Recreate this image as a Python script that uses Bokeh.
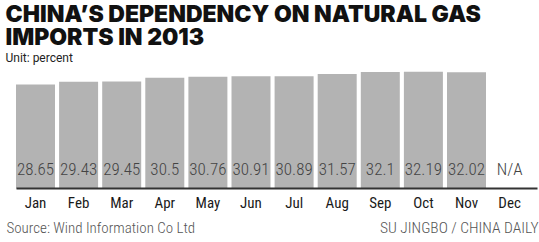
from bokeh.plotting import figure
from bokeh.models import Range1d, Label, ColumnDataSource
from bokeh.core.properties import value
from bokeh.embed import file_html
from bokeh.resources import INLINE

# ---- data ----
months = ["Jan", "Feb", "Mar", "Apr", "May", "Jun", "Jul", "Aug", "Sep", "Oct", "Nov", "Dec"]
dependency = [28.65, 29.43, 29.45, 30.5, 30.76, 30.91, 30.89, 31.57, 32.1, 32.19, 32.02]  # Dec: N/A
value_labels = ["28.65", "29.43", "29.45", "30.5", "30.76", "30.91", "30.89", "31.57",
                "32.1", "32.19", "32.02", "N/A"]
title_lines = ["CHINA\u2019S DEPENDENCY ON NATURAL GAS", "IMPORTS IN 2013"]
unit_text = "Unit: percent"
source_text = "Source: Wind Information Co Ltd"
credit_text = "SU JINGBO / CHINA DAILY"

# ---- layout ----
W, H = 539, 242
BASE = 188          # baseline, px from top
PXU = 3.63          # px per percent
PITCH = 43.1        # px per month
X0 = 35             # centre of first bar, px

x_range = Range1d(-X0 / PITCH, (W - X0) / PITCH)
y_range = Range1d(-(H - BASE) / PXU, BASE / PXU)

p = figure(width=W, height=H, x_range=x_range, y_range=y_range,
           output_backend="svg", toolbar_location=None, min_border=0,
           x_axis_location=None, y_axis_location=None, outline_line_color=None)
p.grid.visible = False
p.background_fill_color = "white"
p.border_fill_color = "white"

idx = list(range(len(months)))
bars = ColumnDataSource(dict(x=idx[:len(dependency)], top=dependency))
p.vbar(x="x", top="top", bottom=0, width=39 / PITCH, source=bars,
       fill_color="#b3b3b3", line_color=None)

# baseline
p.segment(x0=[(16 - X0) / PITCH], y0=[0], x1=[(537 - X0) / PITCH], y1=[0],
          line_color="#333333", line_width=2)

lab = ColumnDataSource(dict(x=idx, y=[20 / PXU] * len(idx), t=value_labels))
p.text(x="x", y="y", text="t", source=lab, text_align="center", text_baseline="alphabetic",
       text_font=value("Roboto Condensed Light"), text_font_size="17px",
       text_color="#444444")

mon = ColumnDataSource(dict(x=idx, y=[-(202 - BASE) / PXU] * len(idx), t=months))
p.text(x="x", y="y", text="t", source=mon, text_align="center", text_baseline="alphabetic",
       text_font=value("Roboto Condensed"), text_font_size="15px", text_color="#1a1a1a")

def add_label(x, y_top, text, size, color, font, align="left"):
    p.add_layout(Label(x=x, y=H - y_top, x_units="screen", y_units="screen", text=text,
                       text_font=font, text_font_size=size,
                       text_color=color, text_align=align, text_baseline="alphabetic"))

add_label(5, 13, title_lines[0], "23px", "#111111", "Inter Black")
add_label(5, 36, title_lines[1], "23px", "#111111", "Inter Black")
add_label(5, 57, unit_text, "12px", "#222222", "Roboto")
add_label(6, 227, source_text, "15px", "#555555", "Roboto Condensed Light")
add_label(538, 227, credit_text, "15.5px", "#555555", "Roboto Condensed Light", align="right")

open("out.html", "w").write(file_html(p, INLINE))
